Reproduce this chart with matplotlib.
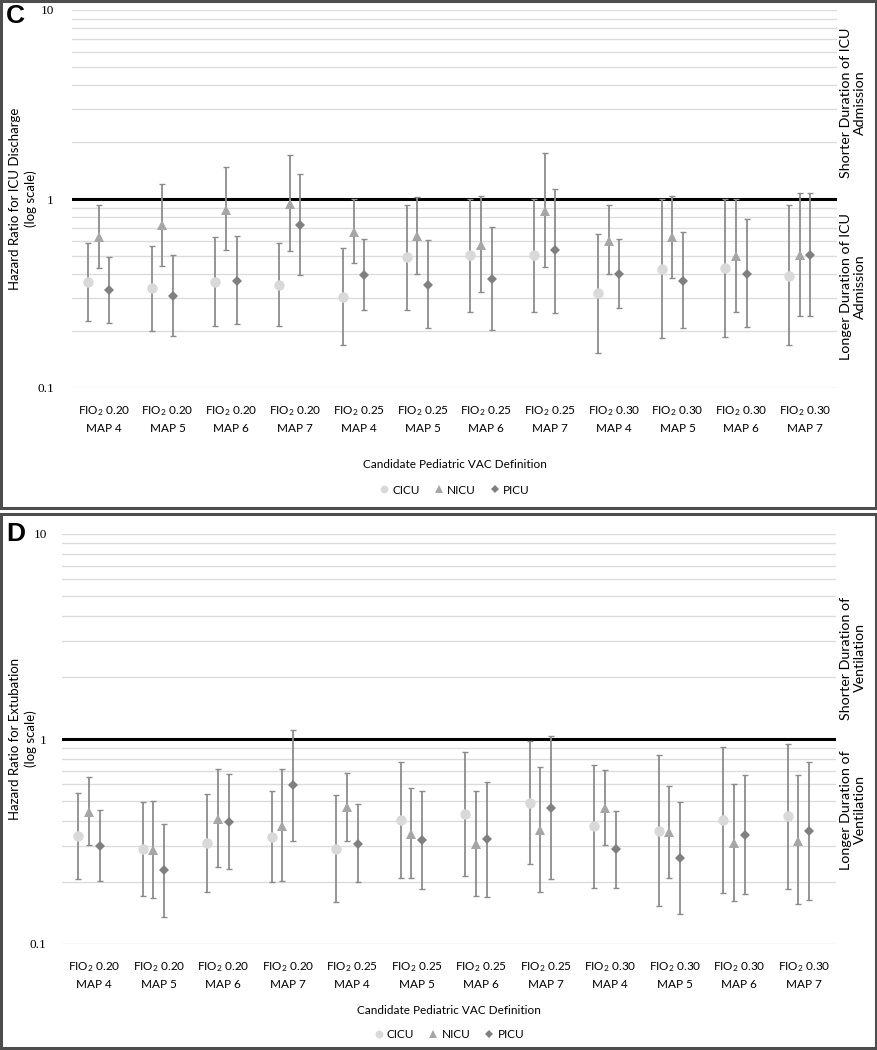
import matplotlib
matplotlib.use("Agg")
import matplotlib.pyplot as plt
import matplotlib.patches as mpatches
from matplotlib.ticker import LogLocator, FixedLocator, NullFormatter, FixedFormatter
import numpy as np

plt.rcParams['font.family'] = ['Lato', 'DejaVu Sans']
plt.rcParams['mathtext.default'] = 'regular'

fio2 = ["0.20", "0.20", "0.20", "0.20", "0.25", "0.25", "0.25", "0.25", "0.30", "0.30", "0.30", "0.30"]
maps = ["4", "5", "6", "7", "4", "5", "6", "7", "4", "5", "6", "7"]
categories = [f"FIO$_2$ {f}\nMAP {m}" for f, m in zip(fio2, maps)]
series_names = ["CICU", "NICU", "PICU"]
ytick_values = [0.1, 1, 10]
ytick_labels = ["0.1", "1", "10"]

# Panel C: hazard ratio for ICU discharge
c_cicu = [0.364, 0.337, 0.364, 0.352, 0.304, 0.492, 0.506, 0.504, 0.317, 0.427, 0.432, 0.393]
c_cicu_lo = [0.225, 0.201, 0.213, 0.213, 0.168, 0.258, 0.253, 0.252, 0.154, 0.184, 0.187, 0.168]
c_cicu_hi = [0.586, 0.567, 0.628, 0.586, 0.551, 0.926, 1.00, 1.00, 0.652, 1.00, 1.00, 0.926]
c_nicu = [0.628, 0.728, 0.878, 0.937, 0.668, 0.639, 0.572, 0.864, 0.603, 0.628, 0.500, 0.504]
c_nicu_lo = [0.434, 0.444, 0.536, 0.530, 0.457, 0.403, 0.321, 0.435, 0.400, 0.384, 0.253, 0.241]
c_nicu_hi = [0.926, 1.206, 1.485, 1.70, 1.00, 1.025, 1.04, 1.75, 0.926, 1.033, 1.00, 1.076]
c_picu = [0.329, 0.307, 0.370, 0.731, 0.397, 0.352, 0.379, 0.534, 0.400, 0.370, 0.403, 0.508]
c_picu_lo = [0.220, 0.188, 0.217, 0.395, 0.260, 0.207, 0.202, 0.249, 0.264, 0.207, 0.210, 0.240]
c_picu_hi = [0.496, 0.504, 0.641, 1.357, 0.611, 0.606, 0.710, 1.135, 0.611, 0.665, 0.780, 1.076]

# Panel D: hazard ratio for extubation
d_cicu = [0.335, 0.290, 0.311, 0.331, 0.290, 0.403, 0.429, 0.489, 0.376, 0.357, 0.403, 0.420]
d_cicu_lo = [0.207, 0.172, 0.179, 0.201, 0.160, 0.211, 0.214, 0.246, 0.188, 0.153, 0.178, 0.186]
d_cicu_hi = [0.545, 0.491, 0.539, 0.556, 0.533, 0.772, 0.861, 0.978, 0.750, 0.833, 0.918, 0.945]
d_nicu = [0.440, 0.287, 0.407, 0.378, 0.466, 0.344, 0.308, 0.358, 0.459, 0.351, 0.310, 0.319]
d_nicu_lo = [0.303, 0.168, 0.238, 0.202, 0.318, 0.210, 0.172, 0.179, 0.304, 0.211, 0.162, 0.157]
d_nicu_hi = [0.653, 0.497, 0.714, 0.714, 0.685, 0.577, 0.556, 0.733, 0.703, 0.592, 0.601, 0.665]
d_picu = [0.301, 0.229, 0.395, 0.597, 0.309, 0.320, 0.325, 0.461, 0.290, 0.262, 0.341, 0.356]
d_picu_lo = [0.203, 0.136, 0.233, 0.318, 0.201, 0.186, 0.170, 0.207, 0.188, 0.140, 0.175, 0.164]
d_picu_hi = [0.450, 0.386, 0.675, 1.11, 0.480, 0.556, 0.619, 1.034, 0.445, 0.491, 0.665, 0.775]

W, H = 878, 1050
fig = plt.figure(figsize=(W / 100, H / 100), dpi=100)

colors = {"CICU": "#d9d9d9", "NICU": "#a6a6a6", "PICU": "#808080"}
markers = {"CICU": "o", "NICU": "^", "PICU": "D"}
msizes = {"CICU": 7.5, "NICU": 7.5, "PICU": 5.5}
offsets = {"CICU": -0.25, "NICU": -1 / 12, "PICU": 1 / 12}
err_color = "#8c8c8c"


def fx(px):
    return px / W


def fy(py):
    return 1 - py / H


def frame(x0, y0, x1, y1):
    fig.patches.append(mpatches.Rectangle((fx(x0), fy(y1)), fx(x1 - x0), (y1 - y0) / H,
                                          transform=fig.transFigure, fill=False,
                                          edgecolor="#4d4d4d", linewidth=2.2))


def panel(ax_px, data, ylabel, rt, rb, xlabel_y, legend_y, tick_pad, letter, letter_y):
    l, t, r, b = ax_px
    ax = fig.add_axes([fx(l), fy(b), fx(r - l), (b - t) / H])
    ax.set_yscale("log")
    ax.set_ylim(0.1, 10)
    ax.set_xlim(-0.5, len(categories) - 0.5)
    ax.yaxis.set_major_locator(FixedLocator(ytick_values))
    ax.yaxis.set_major_formatter(FixedFormatter(ytick_labels))
    ax.yaxis.set_minor_locator(LogLocator(base=10, subs=np.arange(2, 10)))
    ax.yaxis.set_minor_formatter(NullFormatter())
    ax.grid(True, which="both", axis="y", color="#dcdcdc", linewidth=1.0)
    ax.set_axisbelow(True)
    for s in ax.spines.values():
        s.set_visible(False)
    ax.tick_params(axis="both", which="both", length=0)
    ax.tick_params(axis="y", pad=tick_pad, labelsize=9.5)
    for lab in ax.get_yticklabels():
        lab.set_family(["Liberation Serif", "DejaVu Serif"])
    ax.set_xticks(range(len(categories)))
    ax.set_xticklabels(categories, fontsize=8.5, linespacing=1.45)
    ax.tick_params(axis="x", pad=12)
    ax.axhline(1, color="black", linewidth=2.2, zorder=2)

    xs = np.arange(len(categories))
    for name in series_names:
        y, lo, hi = data[name]
        y = np.array(y); lo = np.array(lo); hi = np.array(hi)
        xx = xs + offsets[name]
        ax.errorbar(xx, y, yerr=[y - lo, hi - y], fmt="none", ecolor=err_color,
                    elinewidth=1.3, capsize=2.2, capthick=1.0, zorder=3)
        ax.plot(xx, y, linestyle="none", marker=markers[name], markersize=msizes[name],
                color=colors[name], markeredgewidth=0, zorder=4, label=name)

    fig.text(fx(23), fy((t + b) / 2), ylabel, rotation=90, ha="center", va="center",
             fontsize=9.5, multialignment="center", linespacing=1.3)
    fig.text(fx(853), fy(rt[0]), rt[1], rotation=90,
             ha="center", va="center", fontsize=10.3, multialignment="center")
    fig.text(fx(853), fy(rb[0]), rb[1], rotation=90,
             ha="center", va="center", fontsize=10.3, multialignment="center")
    fig.text(fx((l + r) / 2), fy(xlabel_y), "Candidate Pediatric VAC Definition",
             ha="center", va="center", fontsize=8.5)
    handles, labels = ax.get_legend_handles_labels()
    fig.legend(handles, labels, loc="center", bbox_to_anchor=(fx((l + r) / 2), fy(legend_y)),
               ncol=3, frameon=False, fontsize=8.5, handlelength=0.8, handletextpad=0.3,
               columnspacing=1.2, markerscale=0.75)
    fig.text(fx(6), fy(letter_y), letter, fontsize=19, fontweight="bold", ha="left", va="top",
             family=["Liberation Sans", "DejaVu Sans"])
    return ax


data_c = {"CICU": (c_cicu, c_cicu_lo, c_cicu_hi),
          "NICU": (c_nicu, c_nicu_lo, c_nicu_hi),
          "PICU": (c_picu, c_picu_lo, c_picu_hi)}
data_d = {"CICU": (d_cicu, d_cicu_lo, d_cicu_hi),
          "NICU": (d_nicu, d_nicu_lo, d_nicu_hi),
          "PICU": (d_picu, d_picu_lo, d_picu_hi)}

# Panel C
frame(1, 1, 876, 508)
panel((72, 10, 837, 388), data_c, "Hazard Ratio for ICU Discharge\n(log scale)",
      (103, "Shorter Duration of ICU\nAdmission"), (287, "Longer Duration of ICU\nAdmission"),
      465, 490, 13, "C", 4)

# Panel D
frame(1, 514, 876, 1048)
panel((62, 534, 836, 944), data_d, "Hazard Ratio for Extubation\n(log scale)",
      (658, "Shorter Duration of\nVentilation"), (810, "Longer Duration of\nVentilation"),
      1010, 1035, 11, "D", 522)

fig.savefig("out.png", dpi=100)
